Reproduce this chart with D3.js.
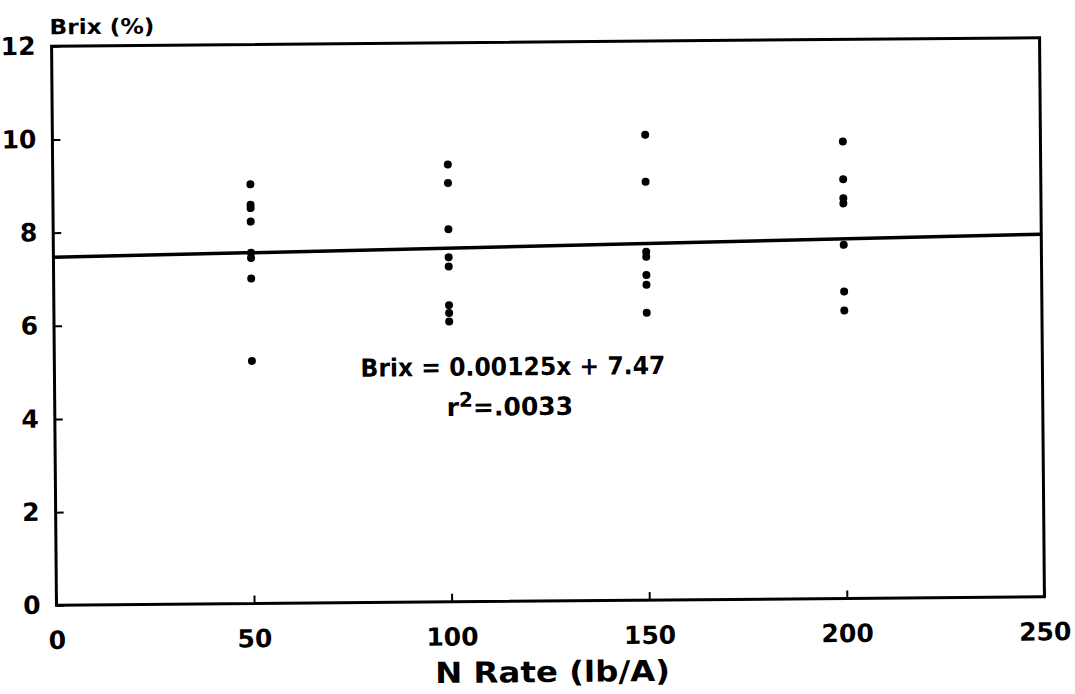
<!DOCTYPE html>
<html>
<head>
<meta charset="utf-8">
<script src="https://cdn.jsdelivr.net/npm/d3@7"></script>
<style>
body { margin: 0; background: #fff; }
text { font-family: "DejaVu Sans", sans-serif; font-weight: bold; fill: #000; }
</style>
</head>
<body>
<div id="chart"></div>
<script>
// N rate groups and Brix readings at each one
var rates = [50, 100, 150, 200];
var brix50 = [9.00, 8.56, 8.49, 8.20, 7.53, 7.42, 6.98, 5.21];
var brix100 = [9.39, 8.99, 8.00, 7.40, 7.20, 6.37, 6.20, 6.02];
var brix150 = [9.99, 8.98, 7.48, 7.37, 6.98, 6.77, 6.17];
var brix200 = [9.81, 9.00, 8.59, 8.48, 7.59, 6.59, 6.18];
var xTicks = [0, 50, 100, 150, 200, 250];
var yTicks = [0, 2, 4, 6, 8, 10, 12];
// fitted line ends (Brix = 0.00125x + 7.47)
var fitX = [0, 250];
var fitY = [7.47, 7.78];

document.addEventListener("DOMContentLoaded", function(e) {
    var width = 1075;
    var height = 694;

    var svg = d3.select("#chart")
        .append("svg")
        .attr("width", width)
        .attr("height", height);

    // the scanned figure sits a little crooked
    var g = svg.append("g")
        .attr("transform", "rotate(-0.5,548,321)");

    var x = d3.scaleLinear().domain([0, 250]).range([54, 1042]);
    var y = d3.scaleLinear().domain([0, 12]).range([601, 42]);

    // frame
    g.append("rect")
        .attr("x", x(0))
        .attr("y", y(12))
        .attr("width", x(250) - x(0))
        .attr("height", y(0) - y(12))
        .attr("fill", "none")
        .attr("stroke", "#000")
        .attr("stroke-width", 3);

    var xAxis = g.append("g")
        .attr("transform", "translate(0," + y(0) + ")")
        .call(d3.axisBottom(x).tickValues(xTicks).tickSizeInner(-8).tickSizeOuter(0).tickPadding(26));
    xAxis.select(".domain").remove();
    xAxis.selectAll("line").attr("stroke", "#000").attr("stroke-width", 2);
    xAxis.selectAll("text").attr("font-size", 25).attr("fill", "#000");

    var yAxis = g.append("g")
        .attr("transform", "translate(" + x(0) + ",0)")
        .call(d3.axisLeft(y).tickValues(yTicks).tickSizeInner(-8).tickSizeOuter(0).tickPadding(16));
    yAxis.select(".domain").remove();
    yAxis.selectAll("line").attr("stroke", "#000").attr("stroke-width", 2);
    yAxis.selectAll("text").attr("font-size", 25).attr("fill", "#000");

    // regression line
    var line = d3.line()
        .x(function(d) { return x(d[0]); })
        .y(function(d) { return y(d[1]); });
    g.append("path")
        .datum(d3.zip(fitX, fitY))
        .attr("d", line)
        .attr("fill", "none")
        .attr("stroke", "#000")
        .attr("stroke-width", 3.5);

    // points
    var groups = [brix50, brix100, brix150, brix200];
    var pts = [];
    for (var i = 0; i < rates.length; i++) {
        for (var j = 0; j < groups[i].length; j++) {
            pts.push([rates[i], groups[i][j]]);
        }
    }
    g.selectAll(".pt")
        .data(pts)
        .enter()
        .append("circle")
        .attr("class", "pt")
        .attr("cx", function(d) { return x(d[0]); })
        .attr("cy", function(d) { return y(d[1]); })
        .attr("r", 4)
        .attr("fill", "#000");

    // equation
    g.append("text")
        .attr("x", 360)
        .attr("y", 375)
        .attr("font-size", 25)
        .attr("textLength", 305)
        .attr("lengthAdjust", "spacingAndGlyphs")
        .text("Brix = 0.00125x + 7.47");

    var r2 = g.append("text")
        .attr("x", 446)
        .attr("y", 415)
        .attr("font-size", 25);
    r2.append("tspan").text("r");
    r2.append("tspan").attr("dy", -9).attr("font-size", 20).text("2");
    r2.append("tspan").attr("dy", 9).text("=.0033");

    // axis titles
    g.append("text")
        .attr("x", 52)
        .attr("y", 30)
        .attr("font-size", 21)
        .attr("textLength", 105)
        .attr("lengthAdjust", "spacingAndGlyphs")
        .text("Brix (%)");

    g.append("text")
        .attr("x", 432)
        .attr("y", 682)
        .attr("font-size", 29)
        .attr("textLength", 235)
        .attr("lengthAdjust", "spacingAndGlyphs")
        .text("N Rate (lb/A)");
});
</script>
</body>
</html>
